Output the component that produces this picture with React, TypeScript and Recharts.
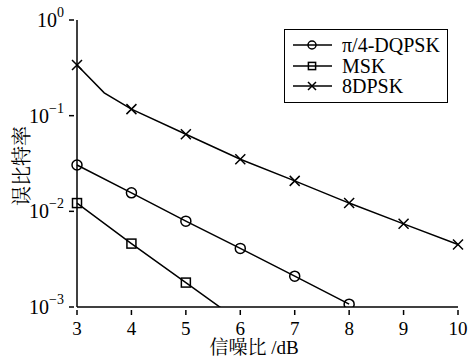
import { Line, LineChart, XAxis, YAxis, Customized } from "recharts";

const SERIF = '"Liberation Serif", "Noto Serif CJK SC", serif';

// SNR (dB) and bit error rate per scheme
const dqpskSnr = [3, 4, 5, 6, 7, 8];
const dqpskBer = [0.0305, 0.0156, 0.0079, 0.0041, 0.0021, 0.00107];
const mskSnr = [3, 4, 5, 6];
const mskBer = [0.0122, 0.0046, 0.0018, 0.0007];
const dpsk8Snr = [3, 3.5, 4, 5, 6, 7, 8, 9, 10];
const dpsk8Ber = [0.339, 0.173, 0.117, 0.064, 0.035, 0.0208, 0.0122, 0.0074, 0.0045];

const xTicks = [3, 4, 5, 6, 7, 8, 9, 10];
const yTicks = [0.001, 0.01, 0.1, 1];
const yExp = ["\u22123", "\u22122", "\u22121", "0"];

const toRows = (xs: number[], ys: number[]) => xs.map((snr, i) => ({ snr, ber: ys[i] }));

const series = [
  { key: "dqpsk", label: "\u03c0/4-DQPSK", marker: "circle", data: toRows(dqpskSnr, dqpskBer) },
  { key: "msk", label: "MSK", marker: "square", data: toRows(mskSnr, mskBer) },
  { key: "8dpsk", label: "8DPSK", marker: "cross", data: toRows(dpsk8Snr, dpsk8Ber) },
];

function Marker({ type, cx, cy, s = 1 }: { type: string; cx: number; cy: number; s?: number }) {
  if (type === "circle")
    return <circle cx={cx} cy={cy} r={5 * s} fill="none" stroke="#000" strokeWidth={1.5} />;
  if (type === "square") {
    const h = 4.5 * s;
    return <rect x={cx - h} y={cy - h} width={2 * h} height={2 * h} fill="none" stroke="#000" strokeWidth={1.5} />;
  }
  const h = 5 * s;
  return (
    <path d={`M${cx - h},${cy - h}L${cx + h},${cy + h}M${cx - h},${cy + h}L${cx + h},${cy - h}`}
      stroke="#000" strokeWidth={1.5} fill="none" />
  );
}

function dotFor(type: string) {
  return (p: any) => {
    const { cx, cy, payload, index } = p;
    // no marker on the intermediate half-dB point, none below the axis
    if (!Number.isInteger(payload.snr) || payload.ber < 0.001 || cx == null)
      return <g key={index} />;
    return <g key={index}><Marker type={type} cx={cx} cy={cy} /></g>;
  };
}

function YTick({ x, y, index }: any) {
  return (
    <g>
      <line x1={x} x2={x + 5} y1={y} y2={y} stroke="#000" strokeWidth={1.5} />
      <text x={x - 5} y={y + 7} textAnchor="end" fontFamily={SERIF} fontSize={20} fill="#000">
        10<tspan dy={-10} fontSize={14}>{yExp[index]}</tspan>
      </text>
    </g>
  );
}

function XTick({ x, y, payload }: any) {
  return (
    <g>
      <line x1={x} x2={x} y1={y} y2={y - 5} stroke="#000" strokeWidth={1.5} />
      <text x={x} y={y + 20} textAnchor="middle" fontFamily={SERIF} fontSize={19} fill="#000">
        {payload.value}
      </text>
    </g>
  );
}

function LegendBox() {
  return (
    <div style={{
      position: "absolute", left: 284, top: 29, width: 164, padding: "5px 0",
      border: "1.5px solid #000", background: "#fff", boxSizing: "border-box",
    }}>
      {series.map((s) => (
        <div key={s.key} style={{ display: "flex", alignItems: "center", height: 20.5 }}>
          <svg width={57} height={20} style={{ flex: "none" }}>
            <line x1={8} x2={47} y1={10} y2={10} stroke="#000" strokeWidth={1.5} />
            <Marker type={s.marker} cx={27} cy={10} s={0.8} />
          </svg>
          <span style={{ fontFamily: SERIF, fontSize: 20, color: "#000", lineHeight: "20px" }}>{s.label}</span>
        </div>
      ))}
    </div>
  );
}

function AxisTitles() {
  return (
    <g fontFamily={SERIF} fill="#000">
      <text x={254} y={354} textAnchor="middle" fontSize={19}>信噪比 /dB</text>
      <text x={22} y={166} textAnchor="middle" fontSize={20} dominantBaseline="central"
        transform="rotate(-90 22 166)">误比特率</text>
    </g>
  );
}

export default function App() {
  return (
    <div style={{ position: "absolute", left: 0, top: 0, width: 469, height: 359, background: "#fff" }}>
      <LineChart width={469} height={359} margin={{ top: 20, right: 11, bottom: 0, left: 0 }}>
        <XAxis dataKey="snr" type="number" domain={[3, 10]} ticks={xTicks} allowDuplicatedCategory={false}
          height={52} tick={<XTick />} tickLine={false} axisLine={{ stroke: "#000", strokeWidth: 1.5 }} />
        <XAxis xAxisId="top" orientation="top" type="number" domain={[3, 10]} height={0}
          tick={false} tickLine={false} axisLine={{ stroke: "#000", strokeWidth: 1.5 }} />
        <YAxis scale="log" type="number" domain={[0.001, 1]} ticks={yTicks} allowDataOverflow
          width={77} tick={<YTick />} tickLine={false} axisLine={{ stroke: "#000", strokeWidth: 1.5 }} />
        <YAxis yAxisId="right" orientation="right" scale="log" type="number" domain={[0.001, 1]} width={0}
          tick={false} tickLine={false} axisLine={{ stroke: "#000", strokeWidth: 1.5 }} />
        {series.map((s) => (
          <Line key={s.key} data={s.data} dataKey="ber" name={s.label} stroke="#000" strokeWidth={1.5}
            dot={dotFor(s.marker)} activeDot={false} isAnimationActive={false} />
        ))}
        <Customized component={<AxisTitles />} />
      </LineChart>
      <LegendBox />
    </div>
  );
}
